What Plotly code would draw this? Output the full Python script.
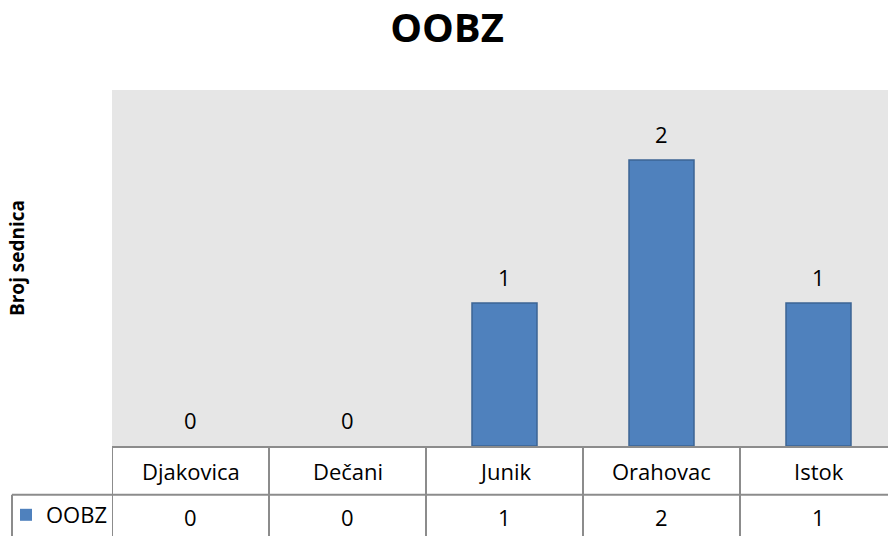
import plotly.graph_objects as go

categories = ["Djakovica", "Dečani", "Junik", "Orahovac", "Istok"]
values = [0, 0, 1, 2, 1]
series_name = "OOBZ"
title_text = "OOBZ"
y_title = "Broj sednica"

W, H = 888, 536
ML, MR, MT, MB = 112, 0, 90, 89
PW, PH = W - ML - MR, H - MT - MB
BASE = H - MB  # pixel y of baseline

def py(p):  # pixel y -> paper y
    return (BASE - p) / PH

def px(p):  # pixel x -> paper x
    return (p - ML) / PW

FONT = "Open Sans"
GRID = "#8c8c8c"

fig = go.Figure()
fig.add_trace(go.Bar(
    x=list(range(len(categories))), y=values, name=series_name,
    width=0.414,
    marker=dict(color="#4f81bd",
                line=dict(color="#3c6494", width=[1.5 if v else 0 for v in values])),
    showlegend=True,
))

n = len(categories)
col_px = 157
xmax = -0.5 + PW / col_px

ann = []
# data labels
for i, v in enumerate(values):
    ann.append(dict(x=i, y=v, xref="x", yref="y", text=str(v), showarrow=False,
                    yanchor="middle", yshift=26.5,
                    font=dict(family=FONT, size=22, color="#000")))
# table rows
for i, c in enumerate(categories):
    ann.append(dict(x=i, y=py(472), xref="x", yref="paper", text=c, showarrow=False,
                    yanchor="middle", font=dict(family=FONT, size=22, color="#000")))
    ann.append(dict(x=i, y=py(518), xref="x", yref="paper", text=str(values[i]), showarrow=False,
                    yanchor="middle", font=dict(family=FONT, size=22, color="#000")))
# y title
ann.append(dict(x=px(17), y=py(258.5), xref="paper", yref="paper", text="<b>%s</b>" % y_title,
                showarrow=False, textangle=-90, xanchor="center", yanchor="middle",
                font=dict(family=FONT, size=19, color="#000")))

shapes = []
# vertical column borders
for i in range(n + 1):
    shapes.append(dict(type="line", xref="x", yref="paper", x0=i - 0.5, x1=i - 0.5,
                       y0=0, y1=py(560), line=dict(color=GRID, width=2)))
# row separator
shapes.append(dict(type="line", xref="paper", yref="paper", x0=px(12), x1=1,
                   y0=py(496), y1=py(496), line=dict(color=GRID, width=2)))
# legend cell left border
shapes.append(dict(type="line", xref="paper", yref="paper", x0=px(12), x1=px(12),
                   y0=py(496), y1=py(560), line=dict(color=GRID, width=2)))

fig.update_layout(
    width=W, height=H,
    margin=dict(l=ML, r=MR, t=MT, b=MB),
    paper_bgcolor="white", plot_bgcolor="#e6e6e6",
    title=dict(text="<b>%s</b>" % title_text, x=447 / W, xref="container", xanchor="center",
               y=1 - 28 / H, yref="container", yanchor="middle",
               font=dict(family=FONT, size=40, color="#000")),
    xaxis=dict(range=[-0.5, xmax], showticklabels=False, ticks="", showgrid=False,
               zeroline=False, showline=True, linecolor=GRID, linewidth=2, fixedrange=True),
    yaxis=dict(range=[0, 2.49], showticklabels=False, ticks="", showgrid=False,
               zeroline=False, showline=False, fixedrange=True),
    legend=dict(x=px(6), y=py(516), xref="paper", yref="paper", xanchor="left", yanchor="middle",
                font=dict(family=FONT, size=22, color="#000"), bgcolor="rgba(0,0,0,0)",
                borderwidth=0),
    annotations=ann, shapes=shapes,
    font=dict(family=FONT),
)

fig.write_html("out.html", config={"displayModeBar": False},
               post_script="document.body.style.margin='0';document.body.style.overflow='hidden';")
